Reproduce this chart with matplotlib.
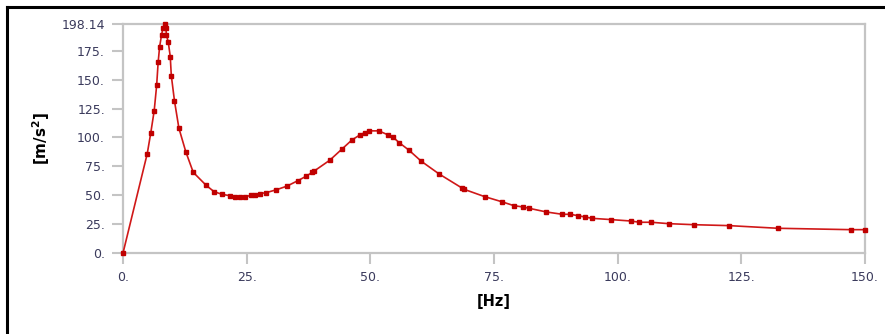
import matplotlib.pyplot as plt
from matplotlib.lines import Line2D

# frequency [Hz] and acceleration [m/s^2]
freq = [0.0, 4.9, 5.6, 6.3, 6.8, 7.1, 7.4, 7.8, 8.1, 8.5, 8.7, 8.75, 9.15, 9.55,
        9.76, 10.4, 11.3, 12.7, 14.2, 16.8, 18.4, 20.0, 21.6, 22.6, 23.6, 24.6,
        25.9, 26.7, 27.7, 29.0, 30.9, 33.1, 35.4, 37.0, 38.3, 38.6, 41.8, 44.3,
        46.3, 47.9, 48.9, 49.8, 51.7, 53.6, 54.6, 55.8, 57.8, 60.3, 63.9, 68.5,
        68.9, 73.1, 76.7, 79.0, 80.9, 82.1, 85.6, 88.8, 90.4, 92.0, 93.3, 94.9,
        98.7, 102.6, 104.4, 106.8, 110.3, 115.4, 122.5, 132.4, 147.1, 150.0]
accel = [0.0, 86.0, 103.7, 123.0, 145.0, 165.0, 178.5, 189.0, 195.0, 198.14,
         194.6, 189.0, 182.5, 170.0, 153.6, 131.7, 108.0, 87.5, 69.8, 58.6, 53.1,
         50.8, 49.6, 48.8, 48.5, 48.5, 50.0, 50.5, 51.4, 52.3, 54.6, 57.8, 62.7,
         66.4, 69.9, 70.8, 80.3, 90.1, 97.9, 102.2, 104.2, 105.7, 105.7, 102.2,
         100.2, 95.6, 89.0, 79.4, 68.4, 56.3, 55.2, 48.8, 44.2, 41.0, 39.8, 38.7,
         35.5, 33.5, 33.5, 32.3, 31.2, 30.0, 28.9, 27.7, 26.6, 26.6, 25.4, 24.5,
         23.7, 21.4, 20.2, 20.2]

xticks = [0, 25, 50, 75, 100, 125, 150]
xticklabels = ['0.', '25.', '50.', '75.', '100.', '125.', '150.']
yticks = [0, 25, 50, 75, 100, 125, 150, 175, 198.14]
yticklabels = ['0.', '25.', '50.', '75.', '100.', '125.', '150.', '175.', '198.14']

grey = '#c4c4c4'
txt = '#3a3a5c'

fig = plt.figure(figsize=(8.85, 3.34), dpi=100)
ax = fig.add_axes([0.139, 0.2425, 0.8384, 0.6855])

ax.plot(freq, accel, color='#d01818', lw=1.2, marker='s', ms=3.0,
        mfc='#c00000', mec='#c00000', clip_on=False, zorder=3)

ax.set_xlim(0, 150)
ax.set_ylim(0, 198.14)
ax.set_xticks(xticks)
ax.set_xticklabels(xticklabels)
ax.set_yticks(yticks)
ax.set_yticklabels(yticklabels)

for s in ax.spines.values():
    s.set_color(grey)
    s.set_linewidth(1.6)
ax.tick_params(direction='out', length=8, width=1.5, color=grey,
               labelcolor=txt, labelsize=9, pad=5)

ax.set_xlabel('[Hz]', fontsize=10.5, fontweight='bold', labelpad=7)
ax.set_ylabel('[m/s$^\\mathbf{2}$]', fontsize=11, fontweight='bold', labelpad=7)

# black frame lines (top and left) around the picture
fig.add_artist(Line2D([0.008, 0.008], [0.0, 0.979], color='black', lw=2.2))
fig.add_artist(Line2D([0.008, 1.0], [0.979, 0.979], color='black', lw=2.2))

fig.savefig('out.png', dpi=100)
